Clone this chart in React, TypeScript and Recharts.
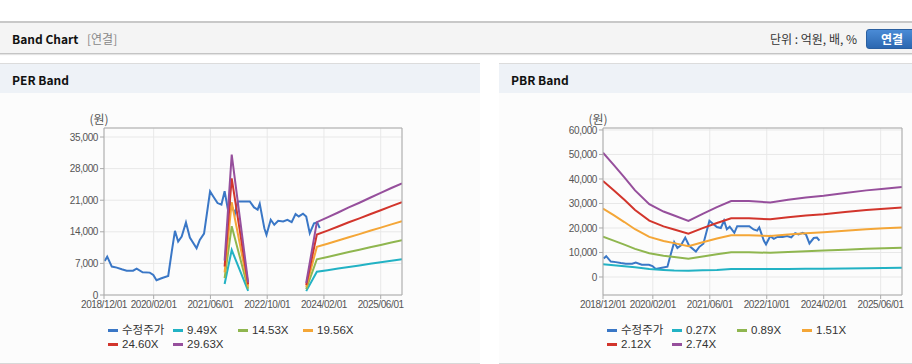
import React from 'react';
import { LineChart, Line, XAxis, YAxis, CartesianGrid, ReferenceLine } from 'recharts';

// ---------- data ----------
const xTickLabels = ['2018/12/01', '2020/02/01', '2021/06/01', '2022/10/01', '2024/02/01', '2025/06/01'];
const axisStart = '2018/12/01';
const axisEnd = '2025/12/01';

const priceName = '수정주가';
const priceDates = [
  '2018/12/07', '2018/12/28', '2019/02/07', '2019/03/19', '2019/05/01', '2019/06/13', '2019/08/07', '2019/09/07',
  '2019/10/28', '2019/12/28', '2020/01/28', '2020/02/25', '2020/04/07', '2020/06/04', '2020/07/04', '2020/08/01',
  '2020/08/28', '2020/09/28', '2020/11/04', '2020/12/07', '2021/02/04', '2021/03/01', '2021/04/07', '2021/05/28',
  '2021/06/25', '2021/08/01', '2021/09/04', '2021/10/01', '2021/10/25', '2021/11/19', '2021/12/28', '2022/01/22',
  '2022/03/16', '2022/05/04', '2022/06/10', '2022/07/10', '2022/07/28', '2022/09/07', '2022/09/25', '2022/11/01',
  '2022/12/01', '2023/01/04', '2023/02/16', '2023/03/22', '2023/04/28', '2023/06/01', '2023/06/28', '2023/08/04',
  '2023/09/01', '2023/10/01', '2023/11/07', '2023/12/04', '2023/12/25',
];
const priceValues = [
  7550, 8500, 6300, 6070, 5700, 5400, 5400, 5850,
  5040, 4960, 4440, 3260, 3700, 4220, 9620, 14200,
  11850, 12950, 16070, 12740, 10370, 12200, 13600, 22950,
  21840, 20370, 20000, 23000, 19500, 20500, 18000, 20730,
  20700, 20730, 19400, 18900, 20200, 14800, 13330, 16670,
  15550, 16430, 16300, 16670, 16140, 17920, 17400, 18000,
  17400, 13700, 15900, 16070, 14800,
];

// PER band
const perBandNames = ['9.49X', '14.53X', '19.56X', '24.60X', '29.63X'];
const perBandDates = [
  '2021/10/01', '2021/12/01', '2022/04/20', '2023/01/01', '2023/09/01', '2023/12/01', '2024/03/01',
  '2024/06/01', '2024/09/01', '2024/12/01', '2025/03/01', '2025/06/01', '2025/09/01', '2025/12/01',
];
const per949 = [2439, 9965, 902, null, 854, 5172, 5504, 5855, 6216, 6548, 6899, 7241, 7592, 7924];
const per1453 = [3734, 15257, 1380, null, 1308, 7919, 8427, 8965, 9517, 10026, 10563, 11086, 11624, 12133];
const per1956 = [5027, 20538, 1858, null, 1760, 10660, 11345, 12069, 12812, 13496, 14220, 14924, 15648, 16333];
const per2460 = [6322, 25830, 2337, null, 2214, 13407, 14268, 15178, 16113, 16974, 17884, 18770, 19680, 20541];
const per2963 = [7615, 31112, 2815, null, 2667, 16148, 17185, 18282, 19408, 20445, 21541, 22608, 23704, 24741];
const perYTicks = [0, 7000, 14000, 21000, 28000, 35000];
const perYDomain = [0, 37000];

// PBR band
const pbrBandNames = ['0.27X', '0.89X', '1.51X', '2.12X', '2.74X'];
const pbrBandDates = [
  '2018/12/01', '2019/03/01', '2019/06/01', '2019/09/01', '2020/01/01', '2020/05/01', '2020/08/01',
  '2020/12/01', '2021/04/01', '2021/08/01', '2021/12/01', '2022/05/01', '2022/11/01', '2023/04/01',
  '2023/09/01', '2024/02/01', '2024/08/01', '2025/02/01', '2025/07/01', '2025/12/01',
];
const pbr027 = [5170, 4750, 4400, 3950, 3270, 2860, 2600, 2580, 2700, 2900, 3270, 3270, 3270, 3300, 3350, 3400, 3500, 3600, 3700, 3800];
const pbr089 = [16465, 14863, 13217, 11481, 9657, 8678, 8144, 7423, 8366, 9256, 10057, 10057, 9879, 10235, 10547, 10769, 11125, 11481, 11704, 11926];
const pbr151 = [27935, 25217, 22424, 19479, 16384, 14723, 13817, 12593, 14194, 15704, 17063, 17063, 16761, 17365, 17894, 18271, 18875, 19479, 19857, 20234];
const pbr212 = [39220, 35404, 31482, 27348, 23002, 20670, 19398, 17681, 19928, 22048, 23956, 23956, 23532, 24380, 25122, 25652, 26500, 27348, 27878, 28408];
const pbr274 = [50690, 45758, 40689, 35346, 29729, 26715, 25071, 22852, 25756, 28496, 30962, 30962, 30414, 31510, 32469, 33154, 34250, 35346, 36031, 36716];
const pbrYTicks = [0, 10000, 20000, 30000, 40000, 50000, 60000];
const pbrYDomain = [-7350, 60800];

// ---------- styles ----------
const priceColor = '#3a77c6';
const bandColors = ['#22b2c4', '#8fb64f', '#f4a637', '#d2352c', '#964f9c'];
const FONT = "'Liberation Sans', Arial, 'Noto Sans CJK KR', sans-serif";
const KFONT = "'Noto Sans CJK KR', 'Liberation Sans', sans-serif";

const toMonths = (d: string) => {
  const [y, m, dd] = d.split('/').map(Number);
  return (y - 2018) * 12 + (m - 12) + (dd - 1) / 30;
};
const toSeries = (dates: string[], vals: (number | null)[]) =>
  dates.map((d, i) => ({ t: toMonths(d), v: vals[i] }));

const xTicks = xTickLabels.map(toMonths);
const xDomain = [toMonths(axisStart), toMonths(axisEnd)];
const labelFor = (v: number) => {
  const i = xTicks.findIndex((t) => Math.abs(t - v) < 0.01);
  return i >= 0 ? xTickLabels[i] : '';
};

const priceSeries = toSeries(priceDates, priceValues);

type BandProps = {
  title: string;
  left: number;
  width: number;
  chartRight: number;
  yDomain: number[];
  yTicks: number[];
  bandNames: string[];
  bandDates: string[];
  bands: (number | null)[][];
};

function BandPanel(p: BandProps) {
  const legendItems = [{ name: priceName, color: priceColor }].concat(
    p.bandNames.map((n, i) => ({ name: n, color: bandColors[i] }))
  );
  const tickStyle = { fill: '#555', fontSize: 10, fontFamily: FONT, letterSpacing: '-0.4px' };
  return (
    <div style={{ position: 'absolute', left: p.left, top: 63, width: p.width, height: 301, background: '#fcfcfc', borderTop: '1px solid #dcdcdc', borderBottom: '1px solid #d8d8d8', boxSizing: 'border-box' }}>
      <div style={{ position: 'absolute', left: 0, top: 0, width: p.width, height: 29, background: '#eef2f7' }} />
      <div style={{ position: 'absolute', left: 12, top: 7, fontFamily: KFONT, fontWeight: 700, fontSize: 12, color: '#111' }}>{p.title}</div>
      <div style={{ position: 'absolute', left: 81, top: 46, fontFamily: KFONT, fontSize: 12, color: '#555', width: 36, textAlign: 'center' }}>(원)</div>
      <div style={{ position: 'absolute', left: 0, top: 29 }}>
        <LineChart width={p.width} height={230} margin={{ top: 35, right: p.chartRight, bottom: 8, left: 0 }}>
          <CartesianGrid stroke="#e8e8e8" />
          <XAxis
            type="number"
            dataKey="t"
            domain={xDomain}
            ticks={xTicks}
            interval={0}
            tickFormatter={labelFor}
            height={20}
            tickSize={4}
            tickMargin={2}
            stroke="#aaa"
            tick={tickStyle}
            allowDataOverflow
          />
          <YAxis
            type="number"
            domain={p.yDomain}
            ticks={p.yTicks}
            interval={0}
            width={104}
            tickSize={4}
            tickMargin={2}
            stroke="#aaa"
            tick={tickStyle}
            tickFormatter={(v: number) => v.toLocaleString('en-US')}
            allowDataOverflow
          />
          <Line data={priceSeries} dataKey="v" stroke={priceColor} strokeWidth={2} dot={false} isAnimationActive={false} />
          {p.bands.map((b, i) => (
            <Line
              key={i}
              data={toSeries(p.bandDates, b)}
              dataKey="v"
              stroke={bandColors[i]}
              strokeWidth={2}
              dot={false}
              connectNulls={false}
              isAnimationActive={false}
            />
          ))}
          <ReferenceLine y={p.yDomain[1]} stroke="#aaa" />
          <ReferenceLine x={xDomain[1]} stroke="#aaa" />
        </LineChart>
      </div>
      {legendItems.map((it, i) => {
        const col = i % 4;
        const row = Math.floor(i / 4);
        return (
          <div key={i} style={{ position: 'absolute', left: 108 + col * 65, top: 259 + row * 14, height: 14, display: 'flex', alignItems: 'center', whiteSpace: 'nowrap' }}>
            <div style={{ width: 10, height: 3, background: it.color, marginRight: 4 }} />
            <span style={{ fontFamily: FONT, fontSize: 11.5, color: '#333', lineHeight: '14px' }}>{it.name}</span>
          </div>
        );
      })}
    </div>
  );
}

export default function App() {
  return (
    <div style={{ position: 'absolute', left: 0, top: 0, width: 912, height: 364, background: '#fff', overflow: 'hidden' }}>
      <div style={{ position: 'absolute', left: 0, top: 21, width: 912, height: 2, background: '#c8c8c8' }} />
      <div style={{ position: 'absolute', left: 0, top: 23, width: 912, height: 30, background: '#f4f4f4', borderBottom: '1px solid #c4c4c4', boxShadow: '0 1px 1px #e4e4e4' }} />
      <div style={{ position: 'absolute', left: 12, top: 30, fontFamily: KFONT, fontWeight: 700, fontSize: 12, color: '#111' }}>Band Chart</div>
      <div style={{ position: 'absolute', left: 87, top: 30, fontFamily: KFONT, fontSize: 12, color: '#888' }}>[연결]</div>
      <div style={{ position: 'absolute', left: 770, top: 30, fontFamily: KFONT, fontSize: 12, color: '#333' }}>단위 : 억원, 배, %</div>
      <div style={{ position: 'absolute', left: 866, top: 29, width: 52, height: 20, background: 'linear-gradient(#4a8bd6, #2b67b0)', borderRadius: 3, border: '1px solid #2a5fa0', boxSizing: 'border-box' }} />
      <div style={{ position: 'absolute', left: 881, top: 30, fontFamily: KFONT, fontWeight: 700, fontSize: 12, color: '#fff' }}>연결</div>
      <BandPanel
        title="PER Band"
        left={0}
        width={480}
        chartRight={78}
        yDomain={perYDomain}
        yTicks={perYTicks}
        bandNames={perBandNames}
        bandDates={perBandDates}
        bands={[per949, per1453, per1956, per2460, per2963]}
      />
      <BandPanel
        title="PBR Band"
        left={499}
        width={413}
        chartRight={10}
        yDomain={pbrYDomain}
        yTicks={pbrYTicks}
        bandNames={pbrBandNames}
        bandDates={pbrBandDates}
        bands={[pbr027, pbr089, pbr151, pbr212, pbr274]}
      />
    </div>
  );
}
